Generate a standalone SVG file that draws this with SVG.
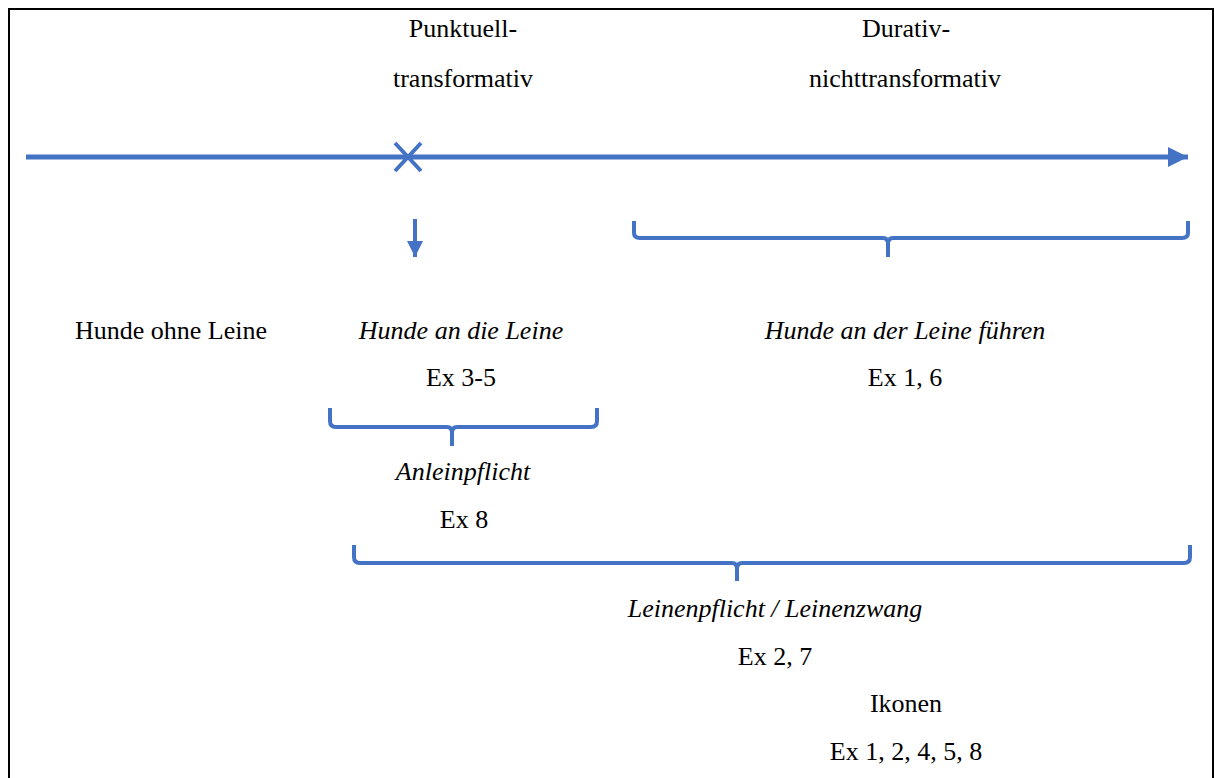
<svg xmlns="http://www.w3.org/2000/svg" width="1214" height="778" viewBox="0 0 1214 778">
<style>
text{font-family:"Liberation Serif","Times New Roman",serif;font-size:26px;fill:#000;text-anchor:middle}
.it{font-style:italic}
.blue{stroke:#4472C4;fill:none;stroke-width:4}
.brace{stroke:#4472C4;fill:none;stroke-width:4;stroke-linejoin:round}
</style>
<defs>
<marker id="ah" viewBox="0 0 10 10" refX="10" refY="5" markerWidth="4" markerHeight="4" markerUnits="strokeWidth" orient="auto">
<path d="M0,0 L10,5 L0,10 Z" fill="#4472C4"/>
</marker>
</defs>
<rect width="1214" height="778" fill="#fff"/>
<g id="frame" stroke="#000" stroke-width="2" fill="none">
<path d="M9,778 L9,9 L1213,9 L1213,778"/>
</g>
<g id="connectors">
<line id="timeline" x1="26" y1="157" x2="1188" y2="157" stroke="#4472C4" stroke-width="5" marker-end="url(#ah)"/>
<path id="xmark" class="blue" d="M395,143 L421,171 M421,143 L395,171" stroke-width="3.5"/>
<line id="down" x1="415" y1="219" x2="415" y2="257" stroke="#4472C4" stroke-width="4" marker-end="url(#ah)"/>
<path id="brace1" class="brace" d="M634,221 L634,233 Q634,238 640,238 L883,238 Q888,238 888,244 L888,257 M888,244 Q888,238 893,238 L1182,238 Q1188,238 1188,233 L1188,221"/>
<path id="brace2" class="brace" d="M330,408 L330,421 Q330,427 336,427 L447,427 Q452,427 452,433 L452,446 M452,433 Q452,427 457,427 L591,427 Q597,427 597,421 L597,408"/>
<path id="brace3" class="brace" d="M354,545 L354,557 Q354,563 360,563 L732,563 Q737,563 737,569 L737,581 M737,569 Q737,563 742,563 L1184,563 Q1190,563 1190,557 L1190,545"/>
</g>
<g id="n-punktuell"><text x="463" y="37">Punktuell-</text><text x="463" y="87">transformativ</text></g>
<g id="n-durativ"><text x="906" y="37">Durativ-</text><text x="905" y="87">nichttransformativ</text></g>
<g id="n-ohne"><text x="171" y="339">Hunde ohne Leine</text></g>
<g id="n-andie"><text class="it" x="461" y="339">Hunde an die Leine</text><text x="461" y="386">Ex 3-5</text></g>
<g id="n-ander"><text class="it" x="905" y="339">Hunde an der Leine führen</text><text x="905" y="386">Ex 1, 6</text></g>
<g id="n-anlein"><text class="it" x="463" y="480">Anleinpflicht</text><text x="464" y="528">Ex 8</text></g>
<g id="n-leinen"><text class="it" x="775" y="617">Leinenpflicht / Leinenzwang</text><text x="775" y="665">Ex 2, 7</text></g>
<g id="n-ikonen"><text x="906" y="712">Ikonen</text><text x="906" y="760">Ex 1, 2, 4, 5, 8</text></g>
</svg>
